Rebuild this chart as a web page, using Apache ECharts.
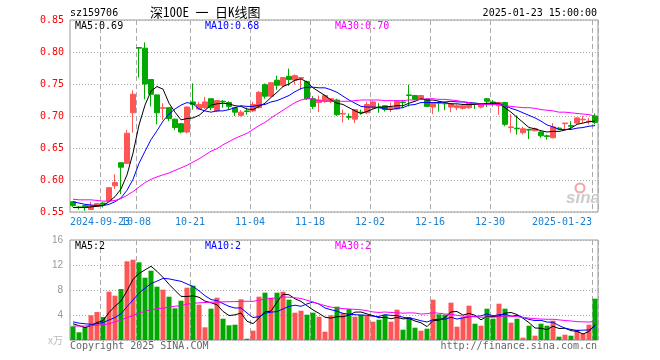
<!DOCTYPE html>
<html><head><meta charset="utf-8">
<script src="https://cdn.jsdelivr.net/npm/echarts@6/dist/echarts.min.js"></script>
<style>html,body{margin:0;padding:0;background:#fff}#c{width:660px;height:360px}</style>
</head><body><div id="c"></div>
<script>
const dates = ['2024-09-12','2024-09-13','2024-09-18','2024-09-19','2024-09-20','2024-09-23','2024-09-24','2024-09-25','2024-09-26','2024-09-27','2024-09-30',
'2024-10-08','2024-10-09','2024-10-10','2024-10-11','2024-10-14','2024-10-15','2024-10-16','2024-10-17','2024-10-18','2024-10-21','2024-10-22','2024-10-23','2024-10-24','2024-10-25','2024-10-28','2024-10-29','2024-10-30','2024-10-31',
'2024-11-01','2024-11-04','2024-11-05','2024-11-06','2024-11-07','2024-11-08','2024-11-11','2024-11-12','2024-11-13','2024-11-14','2024-11-15','2024-11-18','2024-11-19','2024-11-20','2024-11-21','2024-11-22','2024-11-25','2024-11-26','2024-11-27','2024-11-28','2024-11-29',
'2024-12-02','2024-12-03','2024-12-04','2024-12-05','2024-12-06','2024-12-09','2024-12-10','2024-12-11','2024-12-12','2024-12-13','2024-12-16','2024-12-17','2024-12-18','2024-12-19','2024-12-20','2024-12-23','2024-12-24','2024-12-25','2024-12-26','2024-12-27','2024-12-30','2024-12-31',
'2025-01-02','2025-01-03','2025-01-06','2025-01-07','2025-01-08','2025-01-09','2025-01-10','2025-01-13','2025-01-14','2025-01-15','2025-01-16','2025-01-17','2025-01-20','2025-01-21','2025-01-22','2025-01-23'];

const opens = [.566,.558,.560,.554,.559,.564,.567,.591,.627,.626,.705,.807,.806,.757,.733,.712,.713,.695,.688,.675,
.722,.711,.713,.727,.708,.723,.721,.713,.701,.708,.708,.713,.749,.731,.756,.748,.762,.756,.759,.754,
.727,.721,.723,.723,.725,.703,.699,.695,.706,.705,.713,.714,.716,.712,.711,.722,.733,.732,.726,.726,
.714,.721,.720,.714,.713,.712,.713,.720,.714,.727,.722,.716,.721,.682,.681,.674,.679,.677,.675,.669,
.666,.681,.688,.685,.689,.694,.691,.700];
const closes = [.560,.557,.557,.560,.563,.562,.588,.596,.620,.673,.734,.806,.750,.734,.705,.713,.696,.682,.675,.714,
.718,.718,.722,.713,.724,.722,.715,.706,.706,.707,.718,.737,.731,.752,.748,.760,.757,.763,.760,.727,
.715,.725,.732,.727,.702,.704,.698,.710,.705,.718,.722,.713,.710,.713,.723,.721,.732,.726,.732,.715,
.721,.720,.719,.719,.716,.716,.721,.719,.719,.723,.720,.721,.687,.683,.680,.680,.678,.680,.669,.668,
.683,.680,.689,.684,.697,.695,.692,.690];
const lows = [.558,.554,.552,.553,.558,.557,.566,.586,.578,.625,.674,.760,.726,.715,.687,.694,.692,.678,.673,.673,
.710,.710,.711,.709,.706,.713,.710,.700,.699,.702,.706,.712,.727,.730,.741,.745,.747,.749,.741,.725,
.711,.706,.721,.720,.700,.690,.694,.689,.702,.703,.711,.705,.707,.706,.710,.713,.715,.725,.725,.714,
.703,.707,.709,.706,.709,.710,.711,.711,.712,.714,.715,.702,.684,.674,.671,.671,.664,.676,.666,.663,
.665,.678,.678,.679,.688,.689,.687,.687];
const highs = [.567,.559,.561,.566,.564,.565,.589,.609,.627,.678,.740,.807,.815,.757,.733,.720,.714,.696,.689,.715,
.751,.722,.730,.727,.725,.725,.723,.714,.709,.713,.722,.739,.751,.752,.763,.761,.774,.765,.760,.755,
.731,.732,.733,.728,.727,.710,.704,.711,.710,.722,.724,.720,.717,.721,.724,.723,.749,.733,.733,.727,
.722,.723,.721,.720,.718,.718,.722,.721,.720,.728,.725,.722,.722,.703,.701,.683,.680,.682,.676,.671,
.689,.683,.689,.692,.698,.700,.697,.704];

const ma5 = [.557,.557,.557,.558,.559,.560,.566,.574,.586,.608,.642,.686,.717,.739,.746,.742,.720,.706,.694,.696,
.697,.701,.709,.717,.719,.720,.719,.716,.715,.711,.710,.715,.720,.729,.737,.746,.750,.756,.758,.753,
.744,.738,.732,.725,.720,.718,.713,.708,.704,.707,.711,.714,.714,.715,.716,.716,.720,.723,.727,.725,
.725,.723,.721,.719,.719,.718,.718,.718,.718,.720,.720,.720,.713,.706,.698,.690,.682,.680,.677,.675,
.676,.676,.678,.681,.687,.689,.691,.692];
const ma10 = [.566,.564,.562,.561,.560,.560,.562,.566,.572,.584,.601,.626,.645,.663,.677,.692,.703,.711,.717,.721,
.719,.711,.708,.706,.708,.708,.710,.713,.716,.715,.715,.717,.718,.722,.724,.728,.732,.738,.743,.745,
.745,.744,.744,.741,.737,.731,.725,.720,.715,.714,.714,.713,.711,.710,.712,.713,.717,.718,.721,.721,
.721,.721,.722,.723,.722,.722,.721,.720,.719,.719,.719,.719,.716,.712,.709,.705,.701,.697,.692,.686,
.683,.679,.679,.679,.681,.682,.684,.685];
const ma30 = [.570,.569,.569,.569,.568,.567,.567,.568,.571,.576,.582,.589,.596,.601,.605,.608,.611,.615,.619,.623,
.628,.633,.639,.645,.649,.655,.660,.665,.669,.673,.679,.685,.690,.697,.703,.709,.715,.721,.725,.727,
.727,.724,.723,.723,.723,.723,.723,.724,.725,.725,.725,.725,.724,.724,.724,.724,.725,.725,.726,.727,
.727,.726,.726,.725,.724,.722,.721,.719,.718,.718,.718,.718,.716,.715,.714,.713,.713,.712,.710,.709,
.708,.706,.706,.705,.704,.703,.702,.700];

const volumes = [2.19,1.23,2.08,3.95,4.48,3.68,7.73,7.09,8.16,12.59,12.85,12.43,9.97,11.09,8.53,8.05,6.93,5.07,6.29,8.37,
8.69,5.65,2.03,5.01,6.77,3.41,2.35,2.45,6.51,0.2,1.49,6.93,7.57,6.77,7.57,7.73,6.45,4.37,4.69,4.05,
4.37,3.73,1.33,3.95,5.33,4.32,4.96,3.73,4.05,3.84,2.93,3.25,4.05,2.93,4.85,1.65,3.68,1.97,1.49,1.81,
6.45,4.11,4.05,5.97,2.13,3.63,5.49,2.61,2.29,5.01,3.41,5.81,5.01,2.77,3.41,0.37,2.29,0.69,2.61,2.29,
3.09,0.53,0.85,0.69,1.65,1.01,2.45,6.61];
const volMa5 = [2.6,2.3,2.0,2.3,2.8,3.1,4.4,5.4,6.24,7.86,9.7,10.64,11.22,11.8,10.98,10.02,8.92,7.94,6.98,6.96,
7.08,6.84,6.22,5.96,5.64,4.58,3.92,4.02,4.32,3.0,2.62,3.52,4.54,4.6,6.08,7.32,7.24,6.6,6.18,5.48,
4.82,4.26,3.64,3.5,3.74,3.72,3.98,4.46,4.48,4.18,3.9,3.56,3.64,3.4,3.62,3.38,3.46,3.04,2.76,2.14,
3.1,3.18,3.6,4.5,4.56,3.98,4.26,3.96,3.22,3.8,3.76,3.82,4.3,4.4,4.08,3.48,2.78,1.92,1.88,1.66,
2.2,1.84,1.88,1.5,1.38,0.96,1.36,2.5];
const volMa10 = [2.9,2.7,2.6,2.5,2.6,2.8,3.2,3.6,4.2,5.33,6.4,7.52,8.31,9.02,9.42,9.86,9.78,9.58,9.39,8.97,
8.55,7.88,7.08,6.47,6.3,5.83,5.38,5.12,5.14,4.32,3.6,3.72,4.28,4.46,4.54,4.97,5.38,5.57,5.39,5.78,
6.07,5.75,5.12,4.84,4.61,4.27,4.12,4.05,3.99,3.96,3.81,3.77,4.05,3.94,3.9,3.64,3.51,3.34,3.08,2.88,
3.24,3.32,3.32,3.63,3.35,3.54,3.72,3.78,3.86,4.18,3.87,4.04,4.13,3.81,3.94,3.62,3.3,3.11,3.14,2.87,
2.84,2.31,1.9,1.69,1.52,1.58,1.6,2.19];
const volMa30 = [2.24,2.24,2.24,2.3,2.35,2.45,2.6,2.9,3.2,3.6,3.9,4.3,4.6,4.85,5.0,5.1,5.25,5.4,5.5,5.75,
5.85,5.95,6.0,6.05,6.08,6.1,6.13,6.15,6.18,6.21,6.18,6.37,6.56,6.65,6.75,6.89,6.85,6.76,6.64,6.36,
6.07,5.78,5.49,5.26,5.15,5.02,4.96,4.91,4.84,4.69,4.49,4.41,4.48,4.41,4.35,4.29,4.34,4.32,4.15,4.21,
4.37,4.28,4.16,4.14,3.95,3.82,3.78,3.72,3.64,3.67,3.64,3.71,3.83,3.79,3.73,3.6,3.51,3.41,3.36,3.31,
3.32,3.22,3.12,3.04,2.94,2.91,2.87,3.03];

const tickIdx = [5,11,20,30,40,50,60,70,87];
const tickText = ['2024-09-23','10-08','10-21','11-04','11-18','12-02','12-16','12-30','2025-01-23'];
const priceTicks = {min:0.55, max:0.85, step:0.05};
const volTicks = {min:0, max:16, step:4};

const UP = '#ff5555', DOWN = '#00a800';
const MONO = 'DejaVu Sans Mono';
const LBL = '#1a80d4';
const candle = dates.map((d,i)=>[opens[i], closes[i], lows[i], highs[i]]);
const volData = volumes.map((v,i)=>({value:v, itemStyle:{color: closes[i]>opens[i]?UP:DOWN}}));

const showTick = (i)=>tickIdx.indexOf(i)>=0;
// labels after the first are drawn on the main axis; the first one on a twin axis so they may overlap like the original
const showMain = (i)=>tickIdx.indexOf(i)>0;
const showFirst = (i)=>i===tickIdx[0];
const splitX = {show:true, interval:showTick, lineStyle:{color:'#aaaaaa', type:[5,3], width:1}};
const richLbl = {a:{padding:[0,6,0,0], color:LBL, fontFamily:MONO, fontSize:10},
                 b:{padding:[0,66,0,0], color:LBL, fontFamily:MONO, fontSize:10}};
const fmtLbl = (v,i)=>{const k=tickIdx.indexOf(i); if(k<0) return ''; return (k===tickIdx.length-1?'{b|':'{a|')+tickText[k]+'}';};

function txt(text, x, y, color, opts){
  opts = opts||{};
  return {type:'text', x:x, y:y, silent:true, z:100, style:Object.assign({
    text:text, fill:color, font:(opts.font||('10px "'+MONO+'"')),
    align:opts.align||'left', textAlign:opts.align||'left',
    verticalAlign:'middle', textVerticalAlign:'middle'}, opts.style||{})};
}

const chart = echarts.init(document.getElementById('c'), null, {renderer:'canvas', width:660, height:360});
chart.setOption({
  animation:false,
  backgroundColor:'#fff',
  grid:[
    {left:70, top:20, width:528, height:192, show:true, borderColor:'#999', borderWidth:1},
    {left:70, top:240, width:528, height:100, show:true, borderColor:'#999', borderWidth:1}
  ],
  xAxis:[
    {type:'category', gridIndex:0, data:dates, boundaryGap:true,
     axisLine:{show:false}, axisTick:{show:false},
     axisLabel:{interval:showMain, hideOverlap:false, margin:5, color:LBL, fontFamily:MONO, fontSize:10,
       formatter:fmtLbl, rich:richLbl},
     splitLine:splitX},
    {type:'category', gridIndex:1, data:dates, boundaryGap:true,
     axisLine:{show:false}, axisTick:{show:false}, axisLabel:{show:false},
     splitLine:splitX},
    {type:'category', gridIndex:0, data:dates, boundaryGap:true, position:'bottom',
     axisLine:{show:false}, axisTick:{show:false}, splitLine:{show:false},
     axisLabel:{interval:showFirst, hideOverlap:false, margin:5, color:LBL, fontFamily:MONO, fontSize:10,
       formatter:fmtLbl, rich:richLbl}}
  ],
  yAxis:[
    {type:'value', gridIndex:0, min:priceTicks.min, max:priceTicks.max, interval:priceTicks.step,
     axisLine:{show:false}, axisTick:{show:false},
     axisLabel:{formatter:v=>v.toFixed(2), color:'#ff0000', fontFamily:MONO, fontSize:10, margin:6},
     splitLine:{lineStyle:{color:'#aaaaaa', type:[1,2]}}},
    {type:'value', gridIndex:1, min:volTicks.min, max:volTicks.max, interval:volTicks.step,
     axisLine:{show:false}, axisTick:{show:false},
     axisLabel:{formatter:v=>v===0?'{u|x万}':String(v), color:'#999', fontFamily:'Liberation Sans', fontSize:10, margin:7,
       rich:{u:{color:'#bbbbbb', fontFamily:'Noto Sans CJK SC', fontSize:10}}},
     splitLine:{lineStyle:{color:'#aaaaaa', type:[1,2]}}}
  ],
  series:[
    {type:'candlestick', xAxisIndex:0, yAxisIndex:0, data:candle, barWidth:5,
     itemStyle:{color:UP, color0:DOWN, borderColor:UP, borderColor0:DOWN, borderWidth:1}},
    {type:'line', xAxisIndex:0, yAxisIndex:0, data:ma5, symbol:'none', lineStyle:{color:'#000', width:1}, z:5},
    {type:'line', xAxisIndex:0, yAxisIndex:0, data:ma10, symbol:'none', lineStyle:{color:'#0000ff', width:1}, z:5},
    {type:'line', xAxisIndex:0, yAxisIndex:0, data:ma30, symbol:'none', lineStyle:{color:'#ff00ff', width:1}, z:5},
    {type:'bar', xAxisIndex:1, yAxisIndex:1, data:volData, barWidth:5},
    {type:'line', xAxisIndex:1, yAxisIndex:1, data:volMa5, symbol:'none', lineStyle:{color:'#000', width:1}, z:5},
    {type:'line', xAxisIndex:1, yAxisIndex:1, data:volMa10, symbol:'none', lineStyle:{color:'#0000ff', width:1}, z:5},
    {type:'line', xAxisIndex:1, yAxisIndex:1, data:volMa30, symbol:'none', lineStyle:{color:'#ff00ff', width:1}, z:5}
  ],
  graphic:[
    txt('sz159706', 70, 13, '#000'),
    txt('深100E 一 日K线图', 150, 12, '#000', {font:'13px "Noto Sans Mono CJK SC", "Noto Sans CJK SC"'}),
    txt('2025-01-23 15:00:00', 597, 13, '#000', {align:'right'}),
    txt('MA5:0.69', 75, 26, '#000'),
    txt('MA10:0.68', 205, 26, '#0000ff'),
    txt('MA30:0.70', 335, 26, '#ff00ff'),
    txt('MA5:2', 75, 246, '#000'),
    txt('MA10:2', 205, 246, '#0000ff'),
    txt('MA30:2', 335, 246, '#ff00ff'),
    txt('Copyright 2025 SINA.COM', 70, 346, '#666'),
    txt('http://finance.sina.com.cn', 597, 346, '#666', {align:'right'}),
    txt('sina', 566, 198, '#cccccc', {font:'italic bold 17px "Liberation Sans"'}),
    {type:'circle', shape:{cx:580, cy:188, r:4.5}, silent:true, z:99, style:{fill:'none', stroke:'#f4a3a3', lineWidth:2}}
  ]
});
</script>
</body></html>
